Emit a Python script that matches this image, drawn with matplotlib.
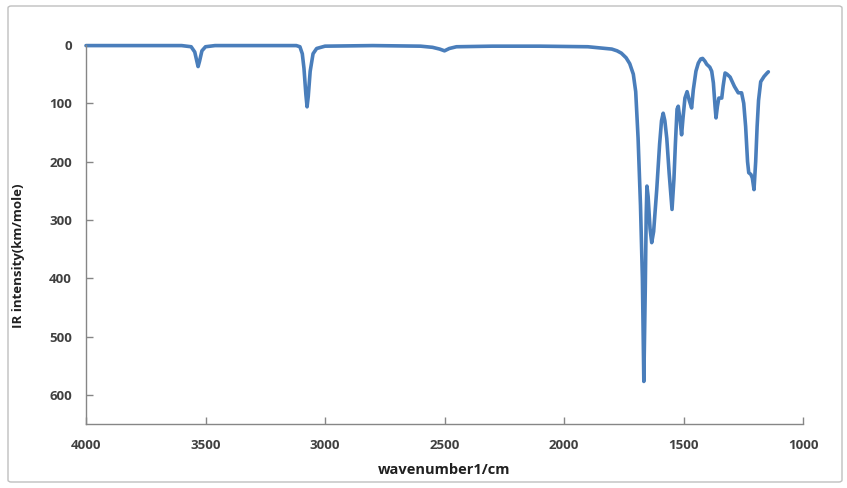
import matplotlib
matplotlib.use("Agg")
import matplotlib.pyplot as plt
from matplotlib.patches import FancyBboxPatch


# values (wavenumber 1/cm, IR intensity km/mole)
WAVENUMBER = [
    4000, 3600, 3560, 3545, 3535, 3531, 3525, 3515, 3500, 3460,
    3300, 3120, 3105, 3095, 3088, 3080, 3075, 3070, 3062, 3050,
    3035, 3000, 2800, 2600, 2550, 2520, 2500, 2480, 2450, 2300,
    2100, 1900, 1850, 1800, 1778, 1760, 1740, 1725, 1710, 1700,
    1690, 1680, 1672, 1666, 1660, 1656, 1653, 1648, 1640, 1633,
    1625, 1612, 1600, 1592, 1585, 1578, 1570, 1560, 1548, 1540,
    1534, 1527, 1522, 1514, 1508, 1502, 1494, 1485, 1476, 1466,
    1459, 1448, 1438, 1428, 1420, 1410, 1403, 1390, 1382, 1375,
    1368, 1364, 1358, 1352, 1340, 1334, 1326, 1318, 1305, 1287,
    1271, 1257, 1248, 1240, 1232, 1227, 1218, 1212, 1205, 1198,
    1192, 1186, 1177, 1163, 1150, 1145,
]
INTENSITY = [
    1, 1, 3, 12, 30, 37, 28, 10, 3, 1,
    1, 1, 3, 15, 40, 85, 106, 88, 45, 15,
    6, 2, 1, 2, 4, 7, 10, 6, 3, 2,
    2, 3, 5, 7, 10, 14, 22, 32, 50, 80,
    160, 275, 400, 577, 420, 290, 242, 260, 315, 339,
    320, 248, 170, 130, 117, 130, 160, 220, 282, 230,
    170, 110, 105, 130, 154, 125, 91, 80, 95, 108,
    77, 45, 31, 24, 23, 28, 33, 38, 45, 65,
    105, 125, 105, 91, 91, 70, 48, 50, 55, 71,
    82, 82, 100, 140, 200, 219, 222, 228, 248, 200,
    140, 95, 63, 54, 48, 46,
]
X_TICKS = [4000, 3500, 3000, 2500, 2000, 1500, 1000]
Y_TICKS = [0, 100, 200, 300, 400, 500, 600]

LINE_COLOR = "#4a7ebb"
AXIS_COLOR = "#868686"
TEXT_COLOR = "#404040"


def main():
    plt.rcParams["font.family"] = ["Open Sans", "DejaVu Sans"]
    plt.rcParams["font.weight"] = "bold"

    fig = plt.figure(figsize=(8.47, 4.88), dpi=100)

    # Excel style chart-area frame
    frame = FancyBboxPatch(
        (8 / 847, 6 / 488), 834 / 847, 476 / 488,
        boxstyle="round,pad=0,rounding_size=0.004",
        transform=fig.transFigure,
        facecolor="none",
        edgecolor="#bfbfbf",
        linewidth=1.0,
        zorder=-1,
    )
    fig.patches.append(frame)

    ax = fig.add_axes([86 / 847, 1 - 424 / 488, 717 / 847, 379 / 488])
    ax.patch.set_alpha(0)
    ax.plot(
        WAVENUMBER,
        INTENSITY,
        color=LINE_COLOR,
        linewidth=2.6,
        solid_joinstyle="round",
        solid_capstyle="round",
        clip_on=False,
    )

    ax.set_xlim(4000, 1000)
    ax.set_ylim(650, 0)
    ax.set_xticks(X_TICKS)
    ax.set_yticks(Y_TICKS)

    for side in ["top", "right"]:
        ax.spines[side].set_visible(False)
    for side in ["left", "bottom"]:
        ax.spines[side].set_color(AXIS_COLOR)
        ax.spines[side].set_linewidth(1.0)

    ax.tick_params(axis="y", direction="in", length=5, width=1,
                   color=AXIS_COLOR, pad=10, labelsize=9.5,
                   labelcolor=TEXT_COLOR)
    ax.tick_params(axis="x", direction="in", length=5, width=1,
                   color=AXIS_COLOR, pad=11, labelsize=9.5,
                   labelcolor=TEXT_COLOR)

    ax.set_xlabel("wavenumber1/cm", fontsize=10.5, fontweight="bold",
                  color="#202020", labelpad=8)
    ax.set_ylabel("IR intensity(km/mole)", fontsize=9.5, fontweight="bold",
                  color="#202020")
    ax.yaxis.set_label_coords(-0.085, 0.443)

    fig.savefig("out.png", dpi=100)
    plt.close(fig)


if __name__ == "__main__":
    main()
